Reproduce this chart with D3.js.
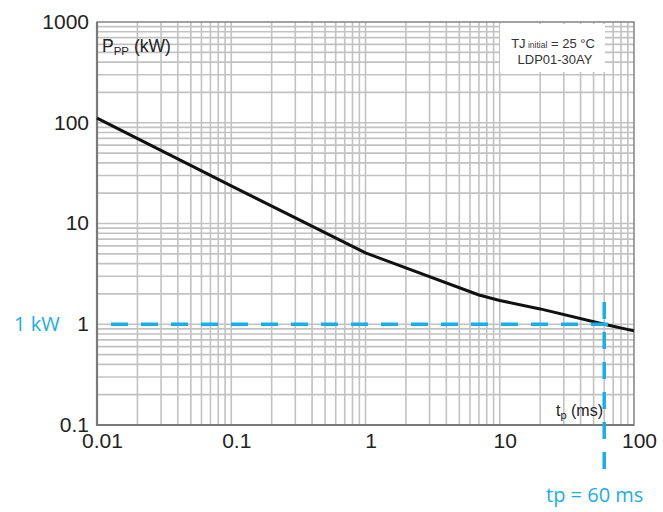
<!DOCTYPE html>
<html><head><meta charset="utf-8">
<script src="https://cdn.jsdelivr.net/npm/d3@7"></script>
<style>body{margin:0;background:#fff}svg{display:block}</style>
</head><body>
<script>
// Data
const curveT = [0.01, 0.1, 1, 7, 10, 20, 60, 100];      // tp (ms)
const curveP = [111, 23.6, 5.1, 1.95, 1.72, 1.42, 1.0, 0.86]; // Ppp (kW)
const xTicks = [0.01, 0.1, 1, 10, 100];
const yTicks = [0.1, 1, 10, 100, 1000];
const xTickLabels = ["0.01", "0.1", "1", "10", "100"];
const yTickLabels = ["0.1", "1", "10", "100", "1000"];
const markerP = 1;   // kW
const markerT = 60;  // ms

const W = 663, H = 512;
const L = 97, R = 634, T = 22, B = 425;
const svg = d3.select("body").append("svg").attr("width", W).attr("height", H);
const x = d3.scaleLog().domain([0.01, 100]).range([L, R]);
const y = d3.scaleLog().domain([0.1, 1000]).range([B, T]);

// grid
const g = svg.append("g");
const minorX = [], minorY = [];
for (let e = -2; e < 2; e++) for (let k = 1; k <= 9; k++) minorX.push(k * Math.pow(10, e));
for (let e = -1; e < 3; e++) for (let k = 1; k <= 9; k++) minorY.push(k * Math.pow(10, e));
g.selectAll(".gx").data(minorX).join("line")
  .attr("x1", d => x(d)).attr("x2", d => x(d)).attr("y1", T).attr("y2", B)
  .attr("stroke", "#c2c2c2").attr("stroke-width", 1.6);
g.selectAll(".gy").data(minorY).join("line")
  .attr("y1", d => y(d)).attr("y2", d => y(d)).attr("x1", L).attr("x2", R)
  .attr("stroke", "#c2c2c2").attr("stroke-width", 1.6);

// legend box
svg.append("rect").attr("x", 500).attr("y", T + 2).attr("width", 105).attr("height", 48).attr("fill", "#fff");
const lt = svg.append("text").attr("x", 553).attr("y", 48).attr("text-anchor", "middle")
  .attr("font-family", "Liberation Sans, Arial, sans-serif").attr("font-size", 13).attr("fill", "#333");
lt.append("tspan").text("TJ");
lt.append("tspan").attr("font-size", 8.5).text(" initial");
lt.append("tspan").text(" = 25  °C");
svg.append("text").attr("x", 555).attr("y", 64).attr("text-anchor", "middle")
  .attr("font-family", "Liberation Sans, Arial, sans-serif").attr("font-size", 13).attr("fill", "#333")
  .text("LDP01-30AY");

// frame
svg.append("rect").attr("x", L).attr("y", T).attr("width", R - L).attr("height", B - T)
  .attr("fill", "none").attr("stroke", "#8a8a8a").attr("stroke-width", 1.6);
svg.append("path").attr("d", `M${L},${T}V${B}H${R}`).attr("fill", "none")
  .attr("stroke", "#7a7a7a").attr("stroke-width", 2.2);

// axes labels
const font = "Liberation Sans, Arial, sans-serif";
const yAxis = d3.axisLeft(y).tickValues(yTicks).tickSize(0).tickFormat((d, i) => yTickLabels[i]);
const ya = svg.append("g").attr("transform", `translate(${L - 8},0)`).call(yAxis);
ya.select(".domain").remove();
ya.selectAll("text").attr("font-family", font).attr("font-size", 21).attr("fill", "#222")
  .attr("x", 0).attr("dy", "0.3em");
const xAxis = d3.axisBottom(x).tickValues(xTicks).tickSize(0).tickFormat((d, i) => xTickLabels[i]);
const xa = svg.append("g").attr("transform", `translate(5,${B})`).call(xAxis);
xa.select(".domain").remove();
xa.selectAll("text").attr("font-family", font).attr("font-size", 21).attr("fill", "#222")
  .attr("y", 8).attr("dy", "0.71em");

// axis titles
const pt = svg.append("text").attr("x", 102).attr("y", 52).attr("font-family", font)
  .attr("font-size", 17.5).attr("fill", "#222");
pt.append("tspan").text("P");
pt.append("tspan").attr("font-size", 11.5).attr("dy", 3).text("PP");
pt.append("tspan").attr("dy", -3).text(" (kW)");
const tt = svg.append("text").attr("x", 556).attr("y", 416).attr("font-family", font)
  .attr("font-size", 16).attr("fill", "#222");
tt.append("tspan").text("t");
tt.append("tspan").attr("font-size", 11).attr("dy", 3).text("p");
tt.append("tspan").attr("dy", -3).text(" (ms)");

// curve
const line = d3.line().x(d => x(d[0])).y(d => y(d[1]));
svg.append("path").datum(curveT.map((t, i) => [t, curveP[i]]))
  .attr("d", line).attr("fill", "none").attr("stroke", "#111").attr("stroke-width", 3)
  .attr("stroke-linejoin", "round");

// blue markers
const blue = "#1aaee8";
svg.append("line").attr("x1", 111).attr("x2", x(markerT) + 6).attr("y1", y(markerP)).attr("y2", y(markerP))
  .attr("stroke", blue).attr("stroke-width", 3.5).attr("stroke-dasharray", "17 13");
svg.append("line").attr("x1", x(markerT)).attr("x2", x(markerT)).attr("y1", 302).attr("y2", 474)
  .attr("stroke", blue).attr("stroke-width", 3.5).attr("stroke-dasharray", "17 13");
svg.append("text").attr("x", 14).attr("y", y(markerP)).attr("dy", "0.35em")
  .attr("font-family", "Open Sans, Noto Sans, sans-serif").attr("font-size", 20).attr("fill", blue).text("1 kW");
svg.append("text").attr("x", 546).attr("y", 502)
  .attr("font-family", "Open Sans, Noto Sans, sans-serif").attr("font-size", 20).attr("fill", blue).text("tp = 60 ms");
</script>
</body></html>
